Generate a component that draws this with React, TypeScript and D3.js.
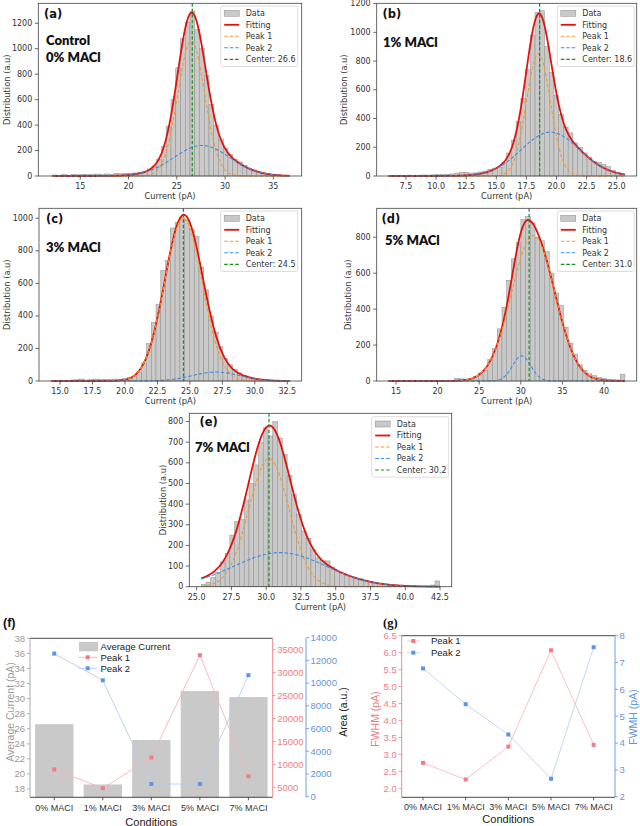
import React from "react";
import * as d3 from "d3";

const W = 640;
const H = 826;

// ---- histogram counts, 50 equal bins over each sample's current range ----
const countsA = [8, 5, 10, 6, 12, 9, 14, 11, 13, 15, 12, 16, 14, 20, 17, 22, 20, 24, 30, 38, 55, 80, 130, 230, 390, 600, 850, 1080, 1210, 1295, 1150, 1000, 790, 560, 400, 290, 220, 170, 130, 110, 85, 62, 48, 34, 25, 18, 12, 9, 6, 4];
const countsB = [4, 3, 5, 4, 6, 5, 4, 7, 6, 8, 10, 9, 12, 14, 20, 25, 24, 20, 22, 28, 34, 45, 55, 60, 95, 160, 250, 380, 540, 740, 980, 1140, 1150, 900, 720, 560, 430, 340, 300, 230, 200, 160, 130, 100, 95, 80, 65, 40, 22, 12];
const countsC = [4, 3, 5, 2, 6, 8, 12, 6, 10, 12, 9, 11, 8, 12, 10, 15, 22, 30, 55, 110, 230, 360, 470, 680, 740, 940, 975, 1005, 990, 930, 890, 700, 560, 400, 300, 210, 140, 100, 70, 50, 35, 25, 18, 12, 9, 6, 4, 3, 2, 2];
const countsD = [3, 2, 4, 1, 2, 1, 2, 1, 0, 1, 3, 1, 0, 5, 14, 12, 8, 12, 25, 45, 60, 120, 180, 290, 410, 560, 680, 770, 900, 915, 880, 800, 780, 720, 600, 490, 420, 300, 210, 150, 90, 60, 40, 30, 20, 15, 10, 8, 6, 38];
const countsE = [10, 22, 45, 70, 120, 160, 250, 315, 325, 420, 500, 590, 700, 770, 730, 800, 720, 640, 540, 445, 350, 270, 235, 180, 140, 125, 125, 95, 75, 65, 55, 48, 40, 38, 30, 22, 18, 15, 12, 10, 8, 7, 5, 4, 3, 3, 2, 2, 8, 28];

// current range covered by the bins (pA)
const rangeA: [number, number] = [12.1, 36.7];
const rangeB: [number, number] = [6.05, 25.68];
const rangeC: [number, number] = [14.3, 32.69];
const rangeD: [number, number] = [14.1, 42.51];
const rangeE: [number, number] = [25.33, 42.48];

// fitted gaussian components: [amplitude, centre, sigma]
type Peak = [number, number, number];
const peaksA: Peak[] = [[1060, 26.5, 1.4], [240, 27.6, 2.9]];
const peaksB: Peak[] = [[850, 18.5, 1.0], [305, 19.5, 2.4]];
const peaksC: Peak[] = [[1000, 24.5, 1.45], [55, 27.0, 1.8]];
const peaksD: Peak[] = [[810, 31.5, 2.6], [140, 30.1, 1.1]];
const peaksE: Peak[] = [[620, 30.2, 1.45], [165, 31.0, 3.3]];

// fitted centre of each distribution (pA)
const centers = [26.6, 18.6, 24.5, 31.0, 30.2];

// ---- summary panels ----
const conditions = ["0% MACI", "1% MACI", "3% MACI", "5% MACI", "7% MACI"];
const avgCurrent = [26.6, 18.6, 24.5, 31.0, 30.2];
const areaPeak1 = [8900, 4800, 11500, 33800, 7400];
const areaPeak2 = [12600, 10250, 1120, 1120, 10700];
const fwhmPeak1 = [2.75, 2.26, 3.23, 6.07, 3.28];
const fwhmPeak2 = [6.78, 5.45, 4.32, 2.67, 7.57];

const avgTicks = [18, 20, 22, 24, 26, 28, 30, 32, 34, 36, 38];
const area1Ticks = [5000, 10000, 15000, 20000, 25000, 30000, 35000];
const area2Ticks = [0, 2000, 4000, 6000, 8000, 10000, 12000, 14000];
const fwhm1Ticks = [2.0, 2.5, 3.0, 3.5, 4.0, 4.5, 5.0, 5.5, 6.0, 6.5];
const fwhm2Ticks = [2, 3, 4, 5, 6, 7, 8];

const legendLabels = ["Data", "Fitting", "Peak 1", "Peak 2"];

const gauss = (v: number, p: Peak) => p[0] * Math.exp(-((v - p[1]) ** 2) / (2 * p[2] * p[2]));

interface HistSpec {
  tag: string;
  notes: string[];
  counts: number[];
  range: [number, number];
  peaks: Peak[];
  center: number;
  xDomain: [number, number];
  yDomain: [number, number];
  xTicks: number[];
  yTicks: number[];
  xFmt: string;
  box: [number, number, number, number];
  legendAt: [number, number];
  yLabelX: number;
  tagAt: [number, number];
  noteAt: [number, number];
}

const specs: HistSpec[] = [
  {
    tag: "(a)", notes: ["Control", "0% MACl"], counts: countsA, range: rangeA, peaks: peaksA, center: centers[0],
    xDomain: [10.65, 37.94], yDomain: [0, 1357], xTicks: [15, 20, 25, 30, 35], yTicks: [0, 200, 400, 600, 800, 1000, 1200], xFmt: "d",
    box: [38.3, 3.3, 301.7, 176], legendAt: [220.7, 6], yLabelX: 6.7, tagAt: [44, 17.5], noteAt: [46, 45],
  },
  {
    tag: "(b)", notes: ["1% MACl"], counts: countsB, range: rangeB, peaks: peaksB, center: centers[1],
    xDomain: [5.07, 26.66], yDomain: [0, 1202], xTicks: [7.5, 10, 12.5, 15, 17.5, 20, 22.5, 25], yTicks: [0, 200, 400, 600, 800, 1000, 1200], xFmt: ".1f",
    box: [376.7, 3.3, 636.7, 176], legendAt: [557.3, 6], yLabelX: 343.7, tagAt: [382.5, 17.5], noteAt: [383, 46.5],
  },
  {
    tag: "(c)", notes: ["3% MACl"], counts: countsC, range: rangeC, peaks: peaksC, center: centers[2],
    xDomain: [13.38, 33.61], yDomain: [0, 1061], xTicks: [15, 17.5, 20, 22.5, 25, 27.5, 30, 32.5], yTicks: [0, 200, 400, 600, 800, 1000], xFmt: ".1f",
    box: [39, 208.3, 301.7, 381], legendAt: [220.7, 211], yLabelX: 6.7, tagAt: [46, 222.5], noteAt: [46, 251.5],
  },
  {
    tag: "(d)", notes: ["5% MACl"], counts: countsD, range: rangeD, peaks: peaksD, center: centers[3],
    xDomain: [12.68, 43.93], yDomain: [0, 961], xTicks: [15, 20, 25, 30, 35, 40], yTicks: [0, 200, 400, 600, 800], xFmt: "d",
    box: [376.7, 208.3, 636.7, 381], legendAt: [557.3, 211], yLabelX: 348.3, tagAt: [381.5, 222.5], noteAt: [385, 245],
  },
  {
    tag: "(e)", notes: ["7% MACl"], counts: countsE, range: rangeE, peaks: peaksE, center: centers[4],
    xDomain: [24.47, 43.34], yDomain: [0, 840], xTicks: [25, 27.5, 30, 32.5, 35, 37.5, 40, 42.5], yTicks: [0, 100, 200, 300, 400, 500, 600, 700, 800], xFmt: ".1f",
    box: [189.3, 413.3, 451.7, 586.7], legendAt: [371.7, 416.7], yLabelX: 163.3, tagAt: [199.5, 426], noteAt: [195, 451.7],
  },
];

const RED = "#e3120b";
const ORANGE = "#f39a2a";
const BLUE = "#3b8fe0";
const GREEN = "#1c8c22";

const HistogramPanel: React.FC<{ s: HistSpec }> = ({ s }) => {
  const [l, t, r, b] = s.box;
  const x = d3.scaleLinear().domain(s.xDomain).range([l, r]);
  const y = d3.scaleLinear().domain(s.yDomain).range([b, t]);
  const n = s.counts.length;
  const step = (s.range[1] - s.range[0]) / n;
  const xs = d3.range(301).map((i) => s.range[0] + ((s.range[1] - s.range[0]) * i) / 300);
  const line = d3
    .line<[number, number]>()
    .x((d) => x(d[0]))
    .y((d) => y(d[1]));
  const fit = xs.map((v) => [v, d3.sum(s.peaks, (p) => gauss(v, p))] as [number, number]);
  const p1 = xs.map((v) => [v, gauss(v, s.peaks[0])] as [number, number]);
  const p2 = xs.map((v) => [v, gauss(v, s.peaks[1])] as [number, number]);
  const fmt = d3.format(s.xFmt);
  const [lx, ly] = s.legendAt;
  const rowY = (i: number) => ly + 7.3 + i * 11.5;
  const hx0 = lx + 3.5;
  const hx1 = lx + 18.5;

  return (
    <g fontFamily="DejaVu Sans, sans-serif">
      {s.counts.map((c, i) => {
        const x0 = s.range[0] + i * step;
        return (
          <rect
            key={i}
            x={x(x0)}
            y={y(c)}
            width={x(x0 + step) - x(x0)}
            height={y(0) - y(c)}
            fill="#c9c9c9"
            stroke="#8d8d8d"
            strokeWidth={0.5}
          />
        );
      })}
      <path d={line(fit) ?? ""} fill="none" stroke={RED} strokeWidth={1.8} />
      <path d={line(p1) ?? ""} fill="none" stroke={ORANGE} strokeWidth={1.1} strokeDasharray="3.5,2" />
      <path d={line(p2) ?? ""} fill="none" stroke={BLUE} strokeWidth={1.1} strokeDasharray="3.5,2" />
      <line x1={x(s.center)} x2={x(s.center)} y1={t} y2={b} stroke={GREEN} strokeWidth={1.2} strokeDasharray="3.5,2" />
      <rect x={l} y={t} width={r - l} height={b - t} fill="none" stroke="#444" strokeWidth={0.8} />

      {s.xTicks.map((v) => (
        <g key={v} transform={`translate(${x(v)},${b})`}>
          <line y2={3.5} stroke="#444" strokeWidth={0.8} />
          <text y={13} textAnchor="middle" fontSize={8} fill="#333">
            {fmt(v)}
          </text>
        </g>
      ))}
      {s.yTicks.map((v) => (
        <g key={v} transform={`translate(${l},${y(v)})`}>
          <line x2={-3.5} stroke="#444" strokeWidth={0.8} />
          <text x={-6} dy="0.32em" textAnchor="end" fontSize={8} fill="#333">
            {v}
          </text>
        </g>
      ))}
      <text x={(l + r) / 2} y={b + 23} textAnchor="middle" fontSize={8.3} fill="#333">
        Current (pA)
      </text>
      <text
        transform={`translate(${s.yLabelX},${(t + b) / 2}) rotate(-90)`}
        dy="0.35em"
        textAnchor="middle"
        fontSize={8.3}
        fill="#333"
      >
        Distribution (a.u)
      </text>

      <text x={s.tagAt[0]} y={s.tagAt[1]} fontSize={11.5} fontWeight="bold" fill="#111">
        {s.tag}
      </text>
      {s.notes.map((note, i) => (
        <text
          key={note}
          x={s.noteAt[0]}
          y={s.noteAt[1] + i * 16.7}
          fontFamily="Lato, sans-serif"
          fontWeight={800}
          fontSize={13}
          fill="#111"
        >
          {note}
        </text>
      ))}

      <rect x={lx} y={ly} width={77} height={60.5} rx={2} fill="#fff" fillOpacity={0.85} stroke="#d3d3d3" strokeWidth={0.8} />
      <rect x={hx0} y={rowY(0) - 3} width={hx1 - hx0} height={6} fill="#c9c9c9" stroke="#8d8d8d" strokeWidth={0.5} />
      <line x1={hx0} x2={hx1} y1={rowY(1)} y2={rowY(1)} stroke={RED} strokeWidth={1.8} />
      <line x1={hx0} x2={hx1} y1={rowY(2)} y2={rowY(2)} stroke={ORANGE} strokeWidth={1.1} strokeDasharray="3.5,2" />
      <line x1={hx0} x2={hx1} y1={rowY(3)} y2={rowY(3)} stroke={BLUE} strokeWidth={1.1} strokeDasharray="3.5,2" />
      <line x1={hx0} x2={hx1} y1={rowY(4)} y2={rowY(4)} stroke={GREEN} strokeWidth={1.2} strokeDasharray="3.5,2" />
      {[...legendLabels, `Center: ${s.center.toFixed(1)}`].map((lab, i) => (
        <text key={lab} x={lx + 25} y={rowY(i)} dy="0.35em" fontSize={8} fill="#333">
          {lab}
        </text>
      ))}
    </g>
  );
};

const PINK = "#ef7d83";
const PINK_LINE = "#f6b3b6";
const SKY = "#5f95e0";
const SKY_LINE = "#b4cdf0";
const GREY_TXT = "#9a9a9a";

const Square: React.FC<{ x: number; y: number; fill: string }> = ({ x, y, fill }) => (
  <rect x={x - 2} y={y - 2} width={4} height={4} fill={fill} />
);

// (f) average current bars with peak areas on two right axes
const PanelF: React.FC = () => {
  const L = 30, T = 638.3, R = 272.7, B = 797.3, R2 = 306;
  const x = d3.scalePoint<string>().domain(conditions).range([L, R]).padding(0.5);
  const yAvg = d3.scaleLinear().domain([16.9, 38]).range([B, T]);
  const yA1 = d3.scaleLinear().domain([2820, 37485]).range([B, T]);
  const yA2 = d3.scaleLinear().domain([-53, 13947]).range([B, T]);
  const bw = x.step() * 0.79;
  const l1 = d3.line<number>().x((_, i) => x(conditions[i]) ?? 0).y((d) => yA1(d));
  const l2 = d3.line<number>().x((_, i) => x(conditions[i]) ?? 0).y((d) => yA2(d));

  return (
    <g fontFamily="Liberation Sans, Arial, sans-serif">
      <text x={3} y={626.5} fontSize={12.5} fontWeight="bold" fill="#111">(f)</text>
      {avgCurrent.map((v, i) => (
        <rect key={i} x={(x(conditions[i]) ?? 0) - bw / 2} y={yAvg(v)} width={bw} height={B - yAvg(v)} fill="#c9c9c9" />
      ))}
      <path d={l1(areaPeak1) ?? ""} fill="none" stroke={PINK_LINE} strokeWidth={0.9} />
      <path d={l2(areaPeak2) ?? ""} fill="none" stroke={SKY_LINE} strokeWidth={0.9} />
      {areaPeak1.map((v, i) => <Square key={`a${i}`} x={x(conditions[i]) ?? 0} y={yA1(v)} fill={PINK} />)}
      {areaPeak2.map((v, i) => <Square key={`b${i}`} x={x(conditions[i]) ?? 0} y={yA2(v)} fill={SKY} />)}

      {/* frame */}
      <line x1={L} x2={R} y1={T} y2={T} stroke="#333" strokeWidth={0.9} />
      <line x1={L} x2={R} y1={B} y2={B} stroke="#333" strokeWidth={0.9} />
      <line x1={L} x2={L} y1={T} y2={B} stroke="#a0a0a0" strokeWidth={0.9} />
      <line x1={R} x2={R} y1={T} y2={B} stroke={PINK} strokeWidth={0.9} />
      <line x1={R2} x2={R2} y1={T} y2={B} stroke={SKY} strokeWidth={0.9} />

      {avgTicks.map((v) => (
        <g key={v} transform={`translate(${L},${yAvg(v)})`}>
          <line x2={-3} stroke="#a0a0a0" strokeWidth={0.8} />
          <text x={-5} dy="0.35em" textAnchor="end" fontSize={9.5} fill={GREY_TXT}>{v}</text>
        </g>
      ))}
      {area1Ticks.map((v) => (
        <g key={v} transform={`translate(${R},${yA1(v)})`}>
          <line x2={3} stroke={PINK} strokeWidth={0.8} />
          <text x={4.5} dy="0.35em" fontSize={9.5} fill={PINK}>{v}</text>
        </g>
      ))}
      {area2Ticks.map((v) => (
        <g key={v} transform={`translate(${R2},${yA2(v)})`}>
          <line x2={3} stroke={SKY} strokeWidth={0.8} />
          <text x={4.5} dy="0.35em" fontSize={9.5} fill={SKY}>{v}</text>
        </g>
      ))}
      {conditions.map((c) => (
        <g key={c} transform={`translate(${x(c)},${B})`}>
          <line y2={3} stroke="#333" strokeWidth={0.8} />
          <text y={14} textAnchor="middle" fontSize={9} fill="#333">{c}</text>
        </g>
      ))}
      <text x={(L + R) / 2} y={825.5} textAnchor="middle" fontSize={11} fill="#222">Conditions</text>
      <text transform={`translate(10,712) rotate(-90)`} dy="0.35em" textAnchor="middle" fontSize={10.5} fill={GREY_TXT}>
        Average Current (pA)
      </text>
      <text transform={`translate(343,712) rotate(-90)`} dy="0.35em" textAnchor="middle" fontSize={10.5} fill="#222">
        Area (a.u.)
      </text>

      {/* legend */}
      <rect x={79} y={642} width={19} height={9.3} fill="#c9c9c9" />
      <text x={100.5} y={646.7} dy="0.35em" fontSize={9.5} fill="#222">Average Current</text>
      <line x1={78.5} x2={97} y1={657.3} y2={657.3} stroke={PINK_LINE} strokeWidth={0.9} />
      <Square x={87.7} y={657.3} fill={PINK} />
      <text x={100.5} y={657.3} dy="0.35em" fontSize={9.5} fill="#222">Peak 1</text>
      <line x1={78.5} x2={97} y1={668.3} y2={668.3} stroke={SKY_LINE} strokeWidth={0.9} />
      <Square x={87.7} y={668.3} fill={SKY} />
      <text x={100.5} y={668.3} dy="0.35em" fontSize={9.5} fill="#222">Peak 2</text>
    </g>
  );
};

// (g) FWHM of both fitted peaks
const PanelG: React.FC = () => {
  const L = 401.7, T = 635.7, R = 615, B = 797.3;
  const x = d3.scalePoint<string>().domain(conditions).range([L, R]).padding(0.5);
  const y1 = d3.scaleLinear().domain([1.735, 6.5]).range([B, T]);
  const y2 = d3.scaleLinear().domain([1.98, 8]).range([B, T]);
  const l1 = d3.line<number>().x((_, i) => x(conditions[i]) ?? 0).y((d) => y1(d));
  const l2 = d3.line<number>().x((_, i) => x(conditions[i]) ?? 0).y((d) => y2(d));
  const f1 = d3.format(".1f");

  return (
    <g fontFamily="Liberation Sans, Arial, sans-serif">
      <text x={383} y={626.5} fontSize={12.5} fontWeight="bold" fontFamily="Liberation Serif, serif" fill="#111">(g)</text>
      <path d={l1(fwhmPeak1) ?? ""} fill="none" stroke={PINK_LINE} strokeWidth={0.8} />
      <path d={l2(fwhmPeak2) ?? ""} fill="none" stroke={SKY_LINE} strokeWidth={0.8} />
      {fwhmPeak1.map((v, i) => <Square key={`a${i}`} x={x(conditions[i]) ?? 0} y={y1(v)} fill={PINK} />)}
      {fwhmPeak2.map((v, i) => <Square key={`b${i}`} x={x(conditions[i]) ?? 0} y={y2(v)} fill={SKY} />)}

      <line x1={L} x2={R} y1={T} y2={T} stroke="#333" strokeWidth={0.9} />
      <line x1={L} x2={R} y1={B} y2={B} stroke="#333" strokeWidth={0.9} />
      <line x1={L} x2={L} y1={T} y2={B} stroke={PINK} strokeWidth={0.9} />
      <line x1={R} x2={R} y1={T} y2={B} stroke={SKY} strokeWidth={0.9} />

      {fwhm1Ticks.map((v) => (
        <g key={v} transform={`translate(${L},${y1(v)})`}>
          <line x2={-3} stroke={PINK} strokeWidth={0.8} />
          <text x={-5} dy="0.35em" textAnchor="end" fontSize={9.5} fill={PINK}>{f1(v)}</text>
        </g>
      ))}
      {fwhm2Ticks.map((v) => (
        <g key={v} transform={`translate(${R},${y2(v)})`}>
          <line x2={3} stroke={SKY} strokeWidth={0.8} />
          <text x={4.5} dy="0.35em" fontSize={9.5} fill={SKY}>{v}</text>
        </g>
      ))}
      {conditions.map((c) => (
        <g key={c} transform={`translate(${x(c)},${B})`}>
          <line y2={3} stroke="#333" strokeWidth={0.8} />
          <text y={12.5} textAnchor="middle" fontSize={9} fill="#333">{c}</text>
        </g>
      ))}
      <text x={(L + R) / 2} y={823} textAnchor="middle" fontSize={11} fill="#222">Conditions</text>
      <text transform={`translate(375,719) rotate(-90)`} dy="0.35em" textAnchor="middle" fontSize={10.5} fill={PINK}>
        FWHM (pA)
      </text>
      <text transform={`translate(633,717) rotate(-90)`} dy="0.35em" textAnchor="middle" fontSize={10.5} fill={SKY}>
        FWMH (pA)
      </text>

      <line x1={407} x2={420} y1={641} y2={641} stroke={PINK_LINE} strokeWidth={0.8} />
      <Square x={413.3} y={641} fill={PINK} />
      <text x={431} y={641} dy="0.35em" fontSize={9.5} fill="#222">Peak 1</text>
      <line x1={407} x2={420} y1={652.7} y2={652.7} stroke={SKY_LINE} strokeWidth={0.8} />
      <Square x={413.3} y={652.7} fill={SKY} />
      <text x={431} y={652.7} dy="0.35em" fontSize={9.5} fill="#222">Peak 2</text>
    </g>
  );
};

export default function App() {
  return (
    <svg
      width={W}
      height={H}
      viewBox={`0 0 ${W} ${H}`}
      style={{ position: "absolute", left: 0, top: 0, background: "#fff" }}
    >
      {specs.map((s) => (
        <HistogramPanel key={s.tag} s={s} />
      ))}
      <PanelF />
      <PanelG />
    </svg>
  );
}
